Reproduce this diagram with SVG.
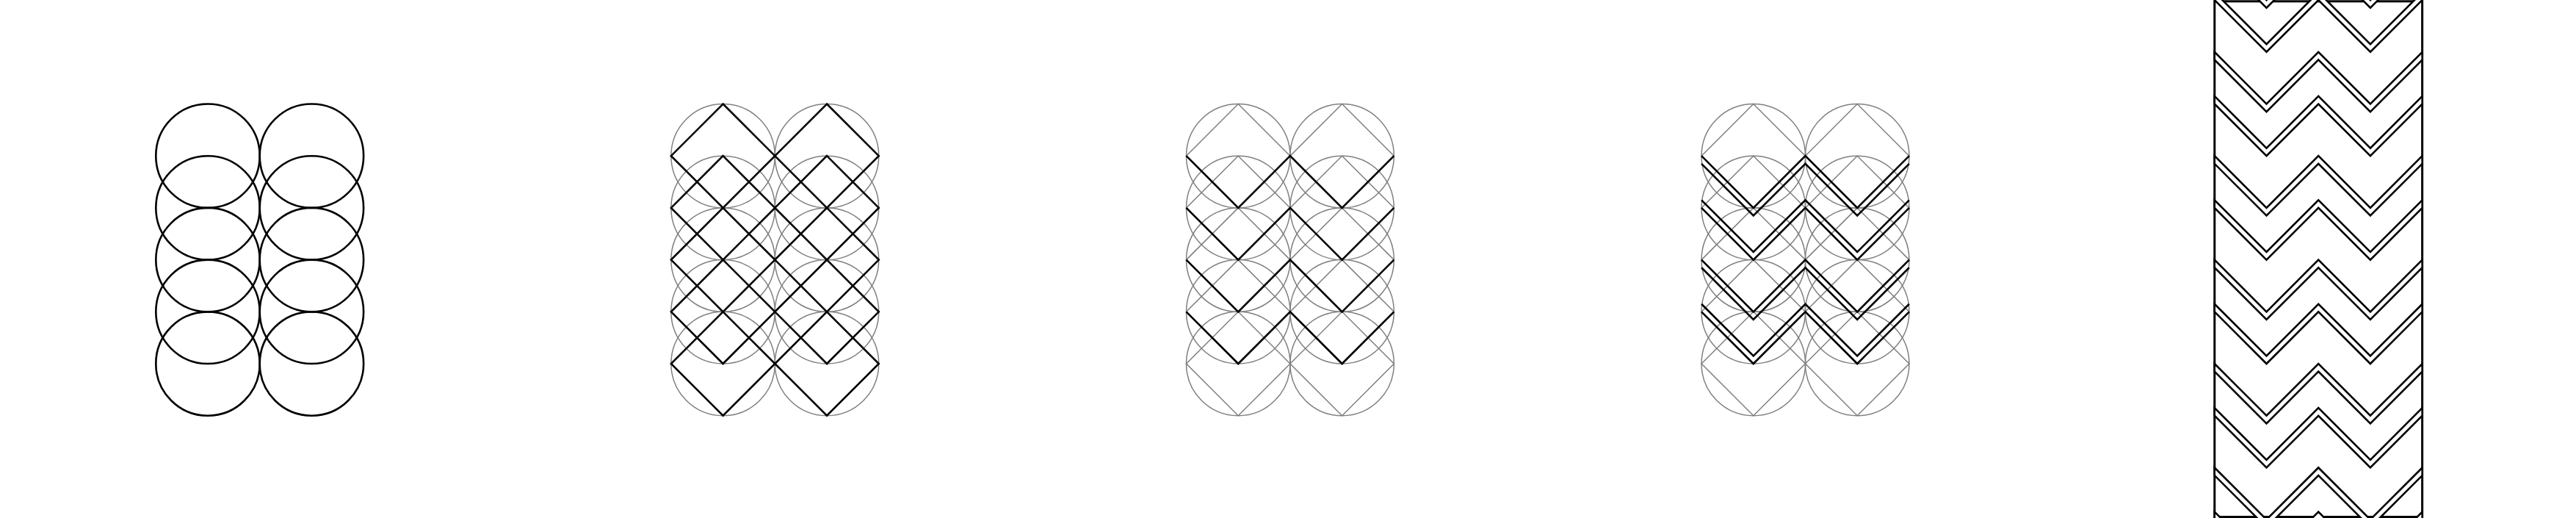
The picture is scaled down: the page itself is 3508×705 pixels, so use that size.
<svg xmlns="http://www.w3.org/2000/svg" xmlns:xlink="http://www.w3.org/1999/xlink" width="3508" height="705" viewBox="0 0 3508 705">
<style>
.blk{fill:none;stroke:#000;stroke-width:2.6;stroke-linejoin:miter}
.gry{fill:none;stroke:#808080;stroke-width:1.5}
.band{fill:#fff;stroke:#000;stroke-width:2.6;stroke-linejoin:miter}
.frame{fill:none;stroke:#000;stroke-width:3}
</style>
<defs>
<circle id="c" cx="0" cy="0" r="70.71"/>
<polygon id="dm" points="0,-70.71 70.71,0 0,70.71 -70.71,0"/>
<polyline id="zz" points="0,0 70.71,70.71 141.42,0 212.13,70.71 282.84,0"/>
<polygon id="band" points="0,0 70.71,70.71 141.42,0 212.13,70.71 282.84,0 282.84,10.6 212.13,81.31 141.42,10.6 70.71,81.31 0,10.6"/>
<g id="circles">
<use xlink:href="#c" href="#c" x="0" y="212.2"/>
<use xlink:href="#c" href="#c" x="0" y="282.91"/>
<use xlink:href="#c" href="#c" x="0" y="353.62"/>
<use xlink:href="#c" href="#c" x="0" y="424.33"/>
<use xlink:href="#c" href="#c" x="0" y="495.04"/>
<use xlink:href="#c" href="#c" x="141.42" y="212.2"/>
<use xlink:href="#c" href="#c" x="141.42" y="282.91"/>
<use xlink:href="#c" href="#c" x="141.42" y="353.62"/>
<use xlink:href="#c" href="#c" x="141.42" y="424.33"/>
<use xlink:href="#c" href="#c" x="141.42" y="495.04"/>
</g>
<g id="diamonds">
<use xlink:href="#dm" href="#dm" x="0" y="212.2"/>
<use xlink:href="#dm" href="#dm" x="0" y="282.91"/>
<use xlink:href="#dm" href="#dm" x="0" y="353.62"/>
<use xlink:href="#dm" href="#dm" x="0" y="424.33"/>
<use xlink:href="#dm" href="#dm" x="0" y="495.04"/>
<use xlink:href="#dm" href="#dm" x="141.42" y="212.2"/>
<use xlink:href="#dm" href="#dm" x="141.42" y="282.91"/>
<use xlink:href="#dm" href="#dm" x="141.42" y="353.62"/>
<use xlink:href="#dm" href="#dm" x="141.42" y="424.33"/>
<use xlink:href="#dm" href="#dm" x="141.42" y="495.04"/>
</g>
</defs>
<rect x="0" y="0" width="3508" height="705" fill="#fff"/>

<g id="panel1">
<use xlink:href="#circles" href="#circles" x="283" y="0" class="blk"/>
</g>

<g id="panel2">
<use xlink:href="#circles" href="#circles" x="984.6" y="0" class="gry"/>
<use xlink:href="#diamonds" href="#diamonds" x="984.6" y="0" class="blk"/>
</g>

<g id="panel3">
<use xlink:href="#circles" href="#circles" x="1686.2" y="0" class="gry"/>
<use xlink:href="#diamonds" href="#diamonds" x="1686.2" y="0" class="gry"/>
<g class="blk">
<use xlink:href="#zz" href="#zz" x="1615.49" y="212.2"/>
<use xlink:href="#zz" href="#zz" x="1615.49" y="282.91"/>
<use xlink:href="#zz" href="#zz" x="1615.49" y="353.62"/>
<use xlink:href="#zz" href="#zz" x="1615.49" y="424.33"/>
</g>
</g>

<g id="panel4">
<use xlink:href="#circles" href="#circles" x="2387.8" y="0" class="gry"/>
<use xlink:href="#diamonds" href="#diamonds" x="2387.8" y="0" class="gry"/>
<g class="blk">
<use xlink:href="#zz" href="#zz" x="2317.09" y="212.2"/>
<use xlink:href="#zz" href="#zz" x="2317.09" y="222.8"/>
<use xlink:href="#zz" href="#zz" x="2317.09" y="272.31"/>
<use xlink:href="#zz" href="#zz" x="2317.09" y="282.91"/>
<use xlink:href="#zz" href="#zz" x="2317.09" y="353.62"/>
<use xlink:href="#zz" href="#zz" x="2317.09" y="364.22"/>
<use xlink:href="#zz" href="#zz" x="2317.09" y="413.73"/>
<use xlink:href="#zz" href="#zz" x="2317.09" y="424.33"/>
</g>
</g>

<g id="panel5">
<rect class="frame" x="3015.8" y="1.8" width="282.84" height="701.7"/>
<g class="band">
<use xlink:href="#band" href="#band" x="3015.8" y="-70.64"/>
<use xlink:href="#band" href="#band" x="3015.8" y="-10.53"/>
<use xlink:href="#band" href="#band" x="3015.8" y="70.78"/>
<use xlink:href="#band" href="#band" x="3015.8" y="130.89"/>
<use xlink:href="#band" href="#band" x="3015.8" y="212.2"/>
<use xlink:href="#band" href="#band" x="3015.8" y="272.31"/>
<use xlink:href="#band" href="#band" x="3015.8" y="353.62"/>
<use xlink:href="#band" href="#band" x="3015.8" y="413.73"/>
<use xlink:href="#band" href="#band" x="3015.8" y="495.04"/>
<use xlink:href="#band" href="#band" x="3015.8" y="555.15"/>
<use xlink:href="#band" href="#band" x="3015.8" y="636.46"/>
<use xlink:href="#band" href="#band" x="3015.8" y="696.57"/>
</g>
</g>
</svg>
